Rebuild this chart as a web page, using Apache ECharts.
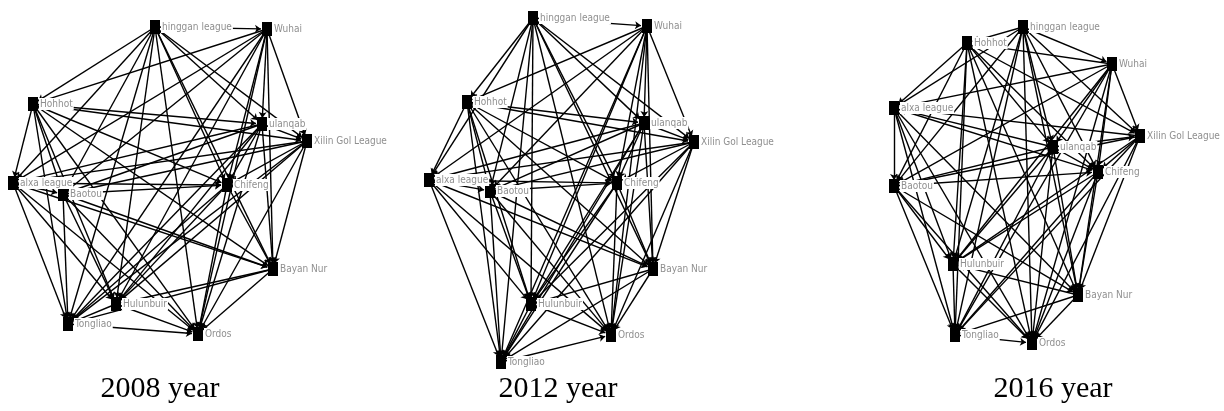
<!DOCTYPE html>
<html>
<head>
<meta charset="utf-8">
<script src="https://cdn.jsdelivr.net/npm/echarts@6/dist/echarts.min.js"></script>
<style>
  html, body { margin: 0; padding: 0; background: #fff; }
  #chart { width: 1224px; height: 411px; }
</style>
</head>
<body>
<div id="chart"></div>
<script>
// node names as they show in the picture
let nodeNames = ['hinggan league', 'Wuhai', 'Hohhot', 'ulanqab', 'Xilin Gol League', 'alxa league',
    'Baotou', 'Chifeng', 'Bayan Nur', 'Hulunbuir', 'Tongliao', 'Ordos'];

// layout of each year's network (panel units, y down)
let layout2008 = [[155, 27], [267, 29], [33, 104], [262, 124], [307, 141], [13, 183],
    [63, 194], [227, 185], [273, 269], [116, 304], [68, 324], [198, 334]];
let layout2012 = [[133, 18], [247, 26], [67, 102], [244, 123], [294, 142], [29, 180],
    [90, 191], [217, 183], [253, 269], [131, 304], [101, 362], [211, 335]];
let layout2016 = [[183, 27], [272, 64], [127, 43], [213, 147], [300, 136], [54, 108],
    [54, 186], [258, 172], [238, 295], [113, 264], [115, 335], [192, 343]];

// upper triangle of the adjacency matrix, row i lists nodes i+1..11
let adj2008 = ['11111111111', '1111111111', '111111111', '11111111', '1111111',
    '111111', '11111', '1111', '111', '11', '1'];
let adj2012 = ['11111111111', '1111111111', '111111111', '11111111', '1111111',
    '111111', '11111', '1111', '111', '11', '1'];
let adj2016 = ['11111111111', '1111111111', '111111111', '11111111', '1111111',
    '111111', '11111', '1111', '111', '11', '1'];

let years = ['2008 year', '2012 year', '2016 year'];
let panelLeft = [0, 400, 840];
let titleCenter = [160, 558, 1053];

function buildNodes(layout) {
    return nodeNames.map(function(n, i) {
        return { name: n, value: layout[i] };
    });
}

function buildLinks(adj) {
    let out = [];
    adj.forEach(function(row, i) {
        for (let k = 0; k < row.length; k++) {
            if (row[k] === '1') out.push({ source: i, target: i + 1 + k });
        }
    });
    return out;
}

let layouts = [layout2008, layout2012, layout2016];
let adjs = [adj2008, adj2012, adj2016];

let chart = echarts.init(document.getElementById('chart'));

let grids = [], xAxes = [], yAxes = [], series = [], titles = [];
for (let p = 0; p < 3; p++) {
    grids.push({ left: panelLeft[p], top: 0, width: 380, height: 370 });
    xAxes.push({ type: 'value', gridIndex: p, min: 0, max: 380, show: false });
    yAxes.push({ type: 'value', gridIndex: p, min: 0, max: 370, inverse: true, show: false });
    titles.push({
        text: years[p],
        left: titleCenter[p],
        top: 374,
        textAlign: 'center',
        padding: 0,
        textStyle: {
            fontFamily: 'Liberation Serif',
            fontSize: 30,
            fontWeight: 'normal',
            color: '#000'
        }
    });
    series.push({
        type: 'graph',
        layout: 'none',
        coordinateSystem: 'cartesian2d',
        xAxisIndex: p,
        yAxisIndex: p,
        symbol: 'rect',
        symbolSize: [10, 14],
        itemStyle: { color: '#000' },
        edgeSymbol: ['none', 'arrow'],
        edgeSymbolSize: 6,
        lineStyle: { color: '#000', width: 1.4, opacity: 1, curveness: 0 },
        label: {
            show: true,
            position: 'right',
            distance: 1,
            formatter: '{b}',
            color: '#8f8f8f',
            fontFamily: 'DejaVu Sans Condensed, Liberation Sans, sans-serif',
            fontSize: 10,
            backgroundColor: '#fff',
            padding: [1, 1]
        },
        emphasis: { disabled: true },
        data: buildNodes(layouts[p]),
        links: buildLinks(adjs[p])
    });
}

chart.setOption({
    animation: false,
    title: titles,
    grid: grids,
    xAxis: xAxes,
    yAxis: yAxes,
    series: series
});

window.addEventListener('resize', function() {
    chart.resize();
});
</script>
</body>
</html>
